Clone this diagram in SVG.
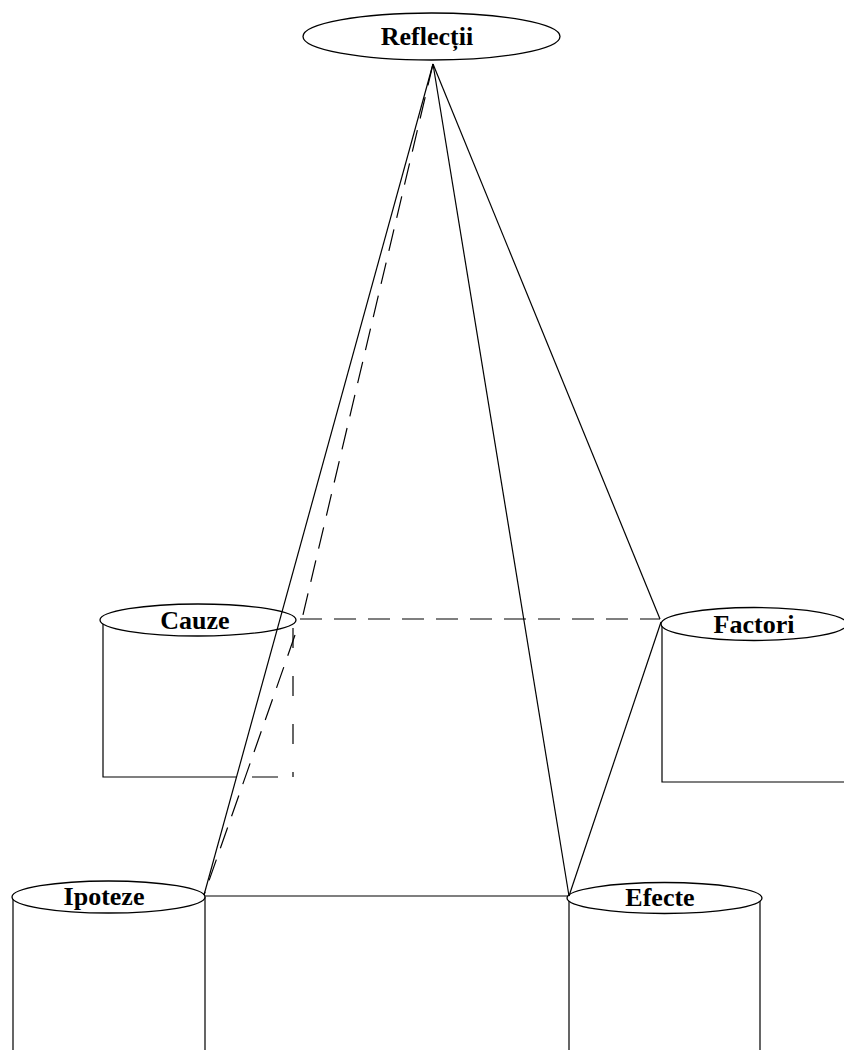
<svg xmlns="http://www.w3.org/2000/svg" width="844" height="1050" viewBox="0 0 844 1050">
<style>
.sh{fill:#fff;stroke:#000;stroke-width:1.3}
.ln{fill:none;stroke:#000;stroke-width:1.2}
.ds{fill:none;stroke:#000;stroke-width:1.2;stroke-dasharray:22,12}
.tx{font-family:"Liberation Serif","Times New Roman",serif;font-weight:bold;font-size:26px;text-anchor:middle;fill:#000}
</style>
<rect width="844" height="1050" fill="#fff"/>
<g id="cauze">
<path class="ln" d="M103,620 V777 H236 M252,777 H278"/>
<path class="ds" d="M293,628 V777" style="stroke-dasharray:20,28"/>
<ellipse class="sh" cx="198" cy="620" rx="98" ry="16"/>
<text class="tx" x="195" y="629">Cauze</text>
</g>
<g id="factori">
<path class="ln" d="M662,624 V782 H844"/>
<ellipse class="sh" cx="754" cy="624" rx="93" ry="16.5"/>
<text class="tx" x="754" y="633">Factori</text>
</g>
<g id="ipoteze">
<path class="ln" d="M13,897 V1050 M205,897 V1050"/>
<ellipse class="sh" cx="108.5" cy="897" rx="96.5" ry="16"/>
<text class="tx" x="104" y="905">Ipoteze</text>
</g>
<g id="efecte">
<path class="ln" d="M569,898 V1050 M760,898 V1050"/>
<ellipse class="sh" cx="664.5" cy="898" rx="97.5" ry="15.5"/>
<text class="tx" x="660" y="906">Efecte</text>
</g>
<g id="reflectii">
<ellipse class="sh" cx="431.5" cy="36.5" rx="128.5" ry="23.5"/>
<text class="tx" x="427" y="45">Reflecții</text>
</g>
<g id="connectors">
<line class="ln" x1="433" y1="64" x2="204" y2="895"/>
<line class="ln" x1="433" y1="64" x2="569" y2="896"/>
<line class="ln" x1="433" y1="64" x2="660" y2="619"/>
<line class="ln" x1="661" y1="622" x2="569" y2="896"/>
<line class="ln" x1="205" y1="896" x2="568" y2="896"/>
<line class="ds" x1="433" y1="64" x2="302" y2="619"/>
<line class="ds" x1="300" y1="619" x2="660" y2="619"/>
<line class="ds" x1="295" y1="635" x2="204" y2="895"/>
</g>
</svg>
